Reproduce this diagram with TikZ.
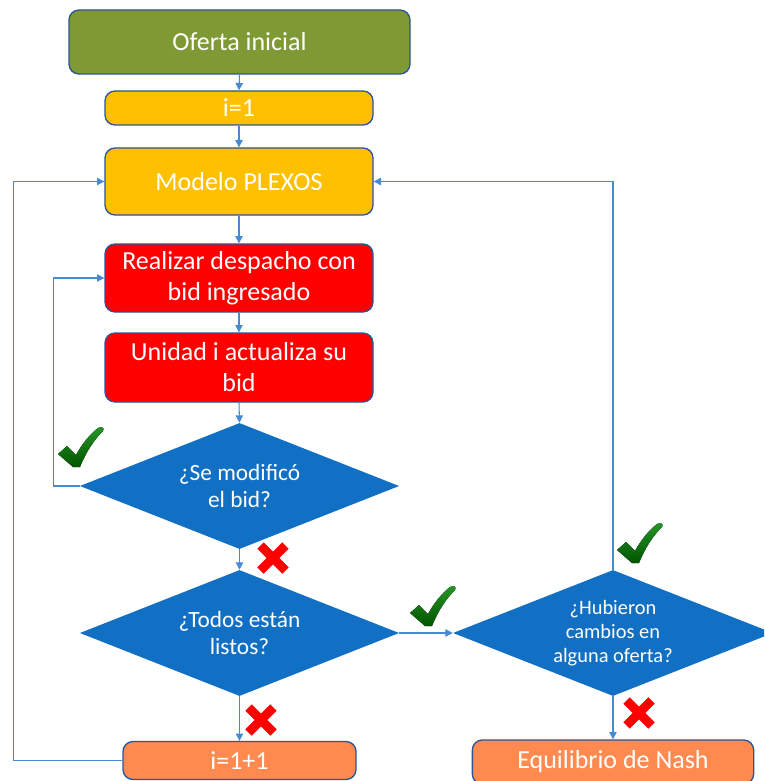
\documentclass[tikz,border=0pt]{standalone}
\usepackage{fontspec}
\setmainfont{Carlito}
\usetikzlibrary{shapes.geometric,arrows.meta}
\definecolor{cgreen}{RGB}{127,154,52}
\definecolor{cyellow}{RGB}{255,192,0}
\definecolor{cred}{RGB}{255,0,0}
\definecolor{cblue}{RGB}{17,111,196}
\definecolor{corange}{RGB}{255,138,80}
\definecolor{cborder}{RGB}{44,84,150}
\definecolor{cline}{RGB}{70,138,214}
\definecolor{chkdark}{RGB}{0,85,0}
\definecolor{chklight}{RGB}{40,150,40}
\tikzset{
  procbox/.style={draw=cborder, line width=1pt, rounded corners=7.5pt, text=white,
    inner sep=0pt, align=center, font=\fontsize{19.5}{23.25}\selectfont},
  decbox/.style={shape=diamond, fill=cblue, text=white, inner sep=0pt, aspect=2.5,
    align=center, minimum width=239.5pt, minimum height=94.5pt,
    font=\fontsize{17.5}{20}\selectfont},
  conn/.style={draw=cline, line width=0.8pt, -{Triangle[length=5.5pt,width=5.5pt]}},
  checkmk/.pic={
    \fill[top color=chklight, bottom color=chkdark]
      (0,27) -- (9,19) -- (18,28) .. controls (24,17) and (32,7) .. (40,1)
      .. controls (44,-1) and (47,1) .. (45,4)
      .. controls (36,13) and (28,25) .. (22,40) -- (15,40) -- cycle;
  },
  redx/.pic={
    \draw[cred, line width=6.75pt] (-12.5,-12.5) -- (12.5,12.5) (-12.5,12.5) -- (12.5,-12.5);
  }
}
\begin{document}
\begin{tikzpicture}[x=0.75pt,y=-0.75pt]
\useasboundingbox (0,0) rectangle (764,781);
\clip (0,0) rectangle (764,781);
\node[procbox, fill=cgreen, minimum width=255.75pt, minimum height=48pt] (ofe) at (239.5,42) {Oferta inicial};
\node[procbox, fill=cyellow, minimum width=201pt, minimum height=25.5pt] (i1) at (239,108) {i=1};
\node[procbox, fill=cyellow, minimum width=201pt, minimum height=50.25pt] (plex) at (239,181.5) {Modelo PLEXOS};
\node[procbox, fill=cred, minimum width=201pt, minimum height=51pt] (desp) at (239,278) {Realizar despacho con\\bid ingresado};
\node[procbox, fill=cred, minimum width=201pt, minimum height=51.75pt] (unid) at (239,367.5) {Unidad i actualiza su\\bid};
\node[decbox] (d1) at (239.5,486) {¿Se modificó\\el bid?};
\node[decbox] (d2) at (239.5,633) {¿Todos están\\listos?};
\node[decbox, minimum width=240pt, font=\fontsize{15.3}{18}\selectfont] (d3) at (613,633) {¿Hubieron\\cambios en\\alguna oferta?};
\node[procbox, fill=corange, minimum width=174.75pt, minimum height=28.5pt] (inc) at (239.5,760.5) {i=1+1};
\node[procbox, fill=corange, minimum width=211pt, minimum height=33pt] (nash) at (613,762) {Equilibrio de Nash};

\draw[conn] (ofe.south) -- (i1.north);
\draw[conn] (i1.south) -- (plex.north);
\draw[conn] (plex.south) -- (desp.north);
\draw[conn] (desp.south) -- (unid.north);
\draw[conn] (unid.south) -- (d1.north);
\draw[conn] (d1.west) -- ++(-26,0) |- (desp.west);
\draw[conn] (d1.south) -- (d2.north);
\draw[conn] (d2.east) -- (d3.west);
\draw[conn] (d2.south) -- (inc.north);
\draw[conn] (inc.west) -- ++(-109,0) |- (plex.west);
\draw[conn] (d3.north) |- (plex.east);
\draw[conn] (d3.south) -- (nash.north);

\pic at (58,427) {checkmk};
\pic at (410,586) {checkmk};
\pic at (617,523) {checkmk};
\pic at (273,558) {redx};
\pic at (261,720) {redx};
\pic at (639,713) {redx};
\end{tikzpicture}
\end{document}
